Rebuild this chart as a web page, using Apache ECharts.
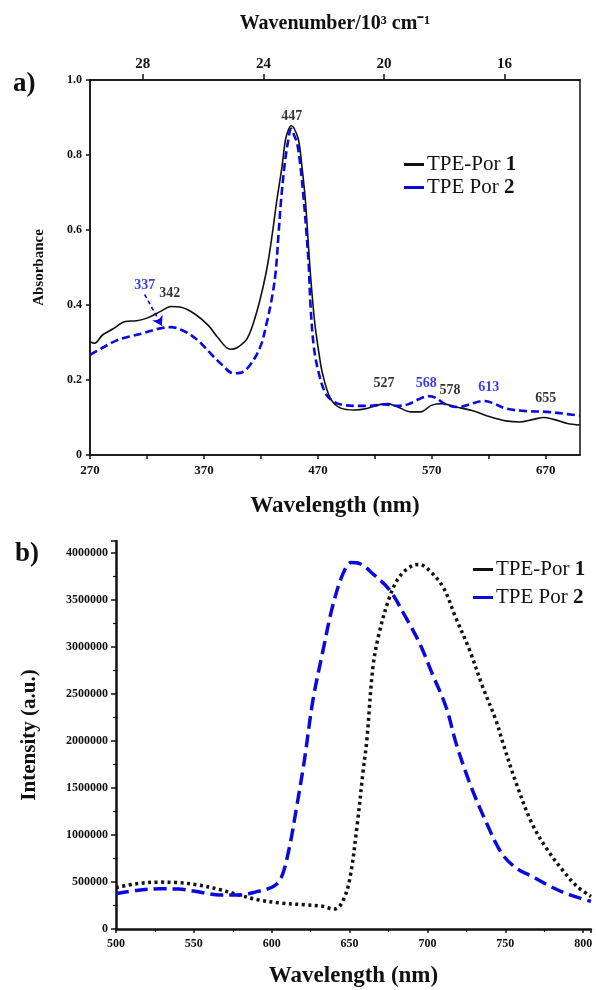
<!DOCTYPE html>
<html>
<head>
<meta charset="utf-8">
<script src="https://cdn.jsdelivr.net/npm/echarts@6/dist/echarts.min.js"></script>
<style>
  html, body { margin: 0; padding: 0; background: #fff; }
  #charts { width: 596px; height: 990px; }
</style>
</head>
<body>
<div id="charts"></div>
<script>
// panel a: absorption
var absWl1 = [270,274,281,290,301,311,320,332,341,350,362,374,382,393,399,408,416,422,426,430,434,438.5,441.5,444,446.5,449,453,456,459,461,463.5,466,468,471,474,481,490,502,513,525,531,540,552,560,570,579,591,606,621,635,647,659,668,677,689,700];
var absA1 = [0.302,0.298,0.32,0.336,0.356,0.358,0.365,0.383,0.396,0.394,0.376,0.345,0.314,0.282,0.286,0.311,0.378,0.45,0.51,0.59,0.68,0.769,0.84,0.866,0.878,0.872,0.84,0.769,0.68,0.591,0.48,0.39,0.333,0.27,0.218,0.151,0.125,0.12,0.124,0.135,0.137,0.128,0.115,0.115,0.133,0.137,0.128,0.118,0.102,0.091,0.088,0.095,0.100,0.095,0.084,0.080];
var absWl2 = [270,281,293,305,317,329,341,350,359,368,376,385,396,402,410.5,419.5,425,430,433,435.5,437.7,440.6,443.5,446.5,449.5,451.8,454.7,457.6,460,462,463.5,466.4,470.8,476.8,484,493,505,516,528,540,549,558,567,573,582,594,603,615,623,635,653,671,689,700];
var absA2 = [0.267,0.286,0.305,0.316,0.325,0.336,0.341,0.334,0.319,0.296,0.270,0.243,0.218,0.219,0.24,0.289,0.351,0.425,0.49,0.591,0.68,0.769,0.831,0.87,0.85,0.831,0.769,0.68,0.591,0.502,0.4,0.289,0.218,0.164,0.142,0.133,0.131,0.131,0.135,0.131,0.135,0.148,0.157,0.153,0.135,0.128,0.135,0.144,0.139,0.124,0.117,0.115,0.109,0.105];
var wlLabels = [270,370,470,570,670];
var wlTicks = [270,320,370,420,470,520,570,620,670];
var waveNumLabels = [16,20,24,28];
// peak annotations: text, x, y, colour
var peakText = ['447','342','337','527','568','578','613','655'];
var peakX = [447,340,318,528,565,586,620,670];
var peakY = [0.904,0.431,0.453,0.19,0.19,0.172,0.181,0.152];
var peakBlue = [false,false,true,false,true,false,true,false];

// panel b: emission
var emWl1 = [500,513,528,538,552,567,577,591,606,621,633,640,645,650,655,658.5,661,665,669,675.6,682,690.6,695,701,710,718,727,735.4,744,749,757,767,777,786.6,796,805];
var emI1 = [440000,481000,499000,496000,471000,418000,372000,311000,276000,258000,241000,212000,276000,524000,1126000,1657000,2000000,2790000,3150000,3530000,3750000,3870000,3880000,3820000,3640000,3320000,2970000,2580000,2220000,1950000,1550000,1126000,843000,630000,453000,347000];
var emWl2 = [500,513,528,540,555,567,579,591,601,606,611,616,621,626.5,633,639,645.7,651,656.4,665,675.6,686,695,703,712,718.5,728,738,747.6,757,767,779,791,805];
var emI2 = [375000,411000,428000,425000,389000,361000,361000,400000,453000,541000,842000,1300000,1800000,2440000,2970000,3430000,3780000,3900000,3890000,3780000,3610000,3320000,3040000,2720000,2360000,1970000,1515000,1126000,807000,648000,560000,453000,365000,294000];

var names = ['TPE-Por 1', 'TPE Por 2'];
var blue = '#0a0ae0';
var serif = 'Liberation Serif';

function zip(xs, ys) {
    var out = [];
    for (var i = 0; i < xs.length; i++) out.push([xs[i], ys[i]]);
    return out;
}
var peakData = [];
for (var i = 0; i < peakText.length; i++) {
    peakData.push({
        name: peakText[i],
        value: [peakX[i], peakY[i]],
        label: { color: peakBlue[i] ? blue : '#000' }
    });
}

var axisTxt = { fontFamily: serif, fontWeight: 'bold', color: '#111' };
function legendFmt(name) {
    var p = name.split(' ');
    var last = p.pop();
    return p.join(' ') + ' {b|' + last + '}';
}
var legendText = {
    fontFamily: serif, fontSize: 21, color: '#111', padding: [0, 0, 0, -2],
    rich: { b: { fontFamily: serif, fontSize: 21, fontWeight: 'bold', color: '#111' } }
};

var myChart = echarts.init(document.getElementById('charts'));
myChart.setOption({
    animation: false,
    title: [
        { text: 'a)', left: 8, top: 66, textStyle: { fontFamily: serif, fontWeight: 'bold', fontSize: 27, color: '#111' } },
        { text: 'b)', left: 10, top: 536, textStyle: { fontFamily: serif, fontWeight: 'bold', fontSize: 27, color: '#111' } }
    ],
    legend: [
        {
            data: names, orient: 'vertical', left: 399, top: 149, itemGap: 2,
            icon: 'rect', itemWidth: 20, itemHeight: 3,
            formatter: legendFmt, textStyle: legendText
        },
        {
            data: names, orient: 'vertical', left: 468, top: 554, itemGap: 7,
            icon: 'rect', itemWidth: 20, itemHeight: 3,
            formatter: legendFmt, textStyle: legendText
        }
    ],
    grid: [
        { left: 90, top: 80, width: 490, height: 375, show: true, borderColor: '#111', borderWidth: 1.5, backgroundColor: 'transparent' },
        { left: 116, top: 541, width: 475, height: 388 }
    ],
    xAxis: [
        {
            gridIndex: 0, type: 'value', min: 270, max: 700,
            name: 'Wavelength (nm)', nameLocation: 'middle', nameGap: 40,
            nameTextStyle: { fontFamily: serif, fontWeight: 'bold', fontSize: 23, color: '#111' },
            axisLine: { lineStyle: { color: '#111', width: 1.5 } },
            axisTick: { customValues: wlTicks, length: 4, lineStyle: { color: '#111', width: 1.5 } },
            axisLabel: Object.assign({ customValues: wlLabels, fontSize: 13, margin: 9 }, axisTxt),
            splitLine: { show: false }
        },
        {
            gridIndex: 0, type: 'value', position: 'top', inverse: true, min: 13.5, max: 29.75,
            name: 'Wavenumber/10³ cm⁻¹', nameLocation: 'middle', nameGap: 46,
            nameTextStyle: { fontFamily: serif, fontWeight: 'bold', fontSize: 20, color: '#111' },
            axisLine: { lineStyle: { color: '#111', width: 1.5 } },
            axisTick: { customValues: waveNumLabels, length: 6, lineStyle: { color: '#111', width: 1.5 } },
            axisLabel: Object.assign({ customValues: waveNumLabels, fontSize: 15, margin: 8 }, axisTxt),
            splitLine: { show: false }
        },
        {
            gridIndex: 1, type: 'value', min: 500, max: 805, interval: 50,
            name: 'Wavelength (nm)', nameLocation: 'middle', nameGap: 36,
            nameTextStyle: { fontFamily: serif, fontWeight: 'bold', fontSize: 23, color: '#111' },
            axisLine: { lineStyle: { color: '#111', width: 2.5 } },
            axisTick: { length: 4, lineStyle: { color: '#111', width: 1.5 } },
            minorTick: { show: true, splitNumber: 2, length: 3, lineStyle: { color: '#111', width: 1.2 } },
            axisLabel: Object.assign({ fontSize: 12, margin: 9, showMaxLabel: false }, axisTxt),
            splitLine: { show: false }
        }
    ],
    yAxis: [
        {
            gridIndex: 0, type: 'value', min: 0, max: 1, interval: 0.2,
            name: 'Absorbance', nameLocation: 'middle', nameGap: 43,
            nameTextStyle: { fontFamily: serif, fontWeight: 'bold', fontSize: 15, color: '#111' },
            axisLine: { show: true, lineStyle: { color: '#111', width: 1.5 } },
            axisTick: { show: true, length: 4, lineStyle: { color: '#111', width: 1.5 } },
            axisLabel: Object.assign({
                fontSize: 12, margin: 8,
                formatter: function (v) { return v === 0 ? '0' : v.toFixed(1); }
            }, axisTxt),
            splitLine: { show: false }
        },
        {
            gridIndex: 1, type: 'value', min: 0, max: 4130000, interval: 500000,
            name: 'Intensity (a.u.)', nameLocation: 'middle', nameGap: 76,
            nameTextStyle: { fontFamily: serif, fontWeight: 'bold', fontSize: 21, color: '#111' },
            axisLine: { show: true, lineStyle: { color: '#111', width: 2.5 } },
            axisTick: { show: true, length: 5, lineStyle: { color: '#111', width: 1.5 } },
            minorTick: { show: true, splitNumber: 2, length: 3, lineStyle: { color: '#111', width: 1.2 } },
            axisLabel: Object.assign({
                fontSize: 12, margin: 8, showMaxLabel: false,
                formatter: function (v) { return String(v); }
            }, axisTxt),
            splitLine: { show: false }
        }
    ],
    series: [
        {
            name: names[0], type: 'line', xAxisIndex: 0, yAxisIndex: 0,
            data: zip(absWl1, absA1), smooth: 0.35, showSymbol: false,
            itemStyle: { color: '#111' },
            lineStyle: { color: '#111', width: 1.6 }
        },
        {
            name: names[1], type: 'line', xAxisIndex: 0, yAxisIndex: 0,
            data: zip(absWl2, absA2), smooth: 0.35, showSymbol: false,
            itemStyle: { color: blue },
            lineStyle: { color: blue, width: 2.6, type: [8, 4] },
            markLine: {
                silent: true, symbol: ['none', 'arrow'], symbolSize: 9,
                label: { show: false },
                lineStyle: { color: blue, width: 1.6, type: [4, 3] },
                data: [[{ coord: [318, 0.428] }, { coord: [333, 0.345] }]]
            }
        },
        {
            name: 'peaks', type: 'scatter', xAxisIndex: 0, yAxisIndex: 0,
            data: peakData, symbolSize: 0, itemStyle: { color: 'transparent' },
            label: {
                show: true, position: 'inside', formatter: '{b}',
                fontFamily: serif, fontWeight: 'bold', fontSize: 14
            }
        },
        {
            name: names[0], type: 'line', xAxisIndex: 2, yAxisIndex: 1,
            data: zip(emWl1, emI1), smooth: 0.35, showSymbol: false,
            itemStyle: { color: '#111' },
            lineStyle: { color: '#111', width: 3.5, type: [3, 3.5] }
        },
        {
            name: names[1], type: 'line', xAxisIndex: 2, yAxisIndex: 1,
            data: zip(emWl2, emI2), smooth: 0.35, showSymbol: false,
            itemStyle: { color: blue },
            lineStyle: { color: blue, width: 3.5, type: [13, 6] }
        }
    ]
});
</script>
</body>
</html>
